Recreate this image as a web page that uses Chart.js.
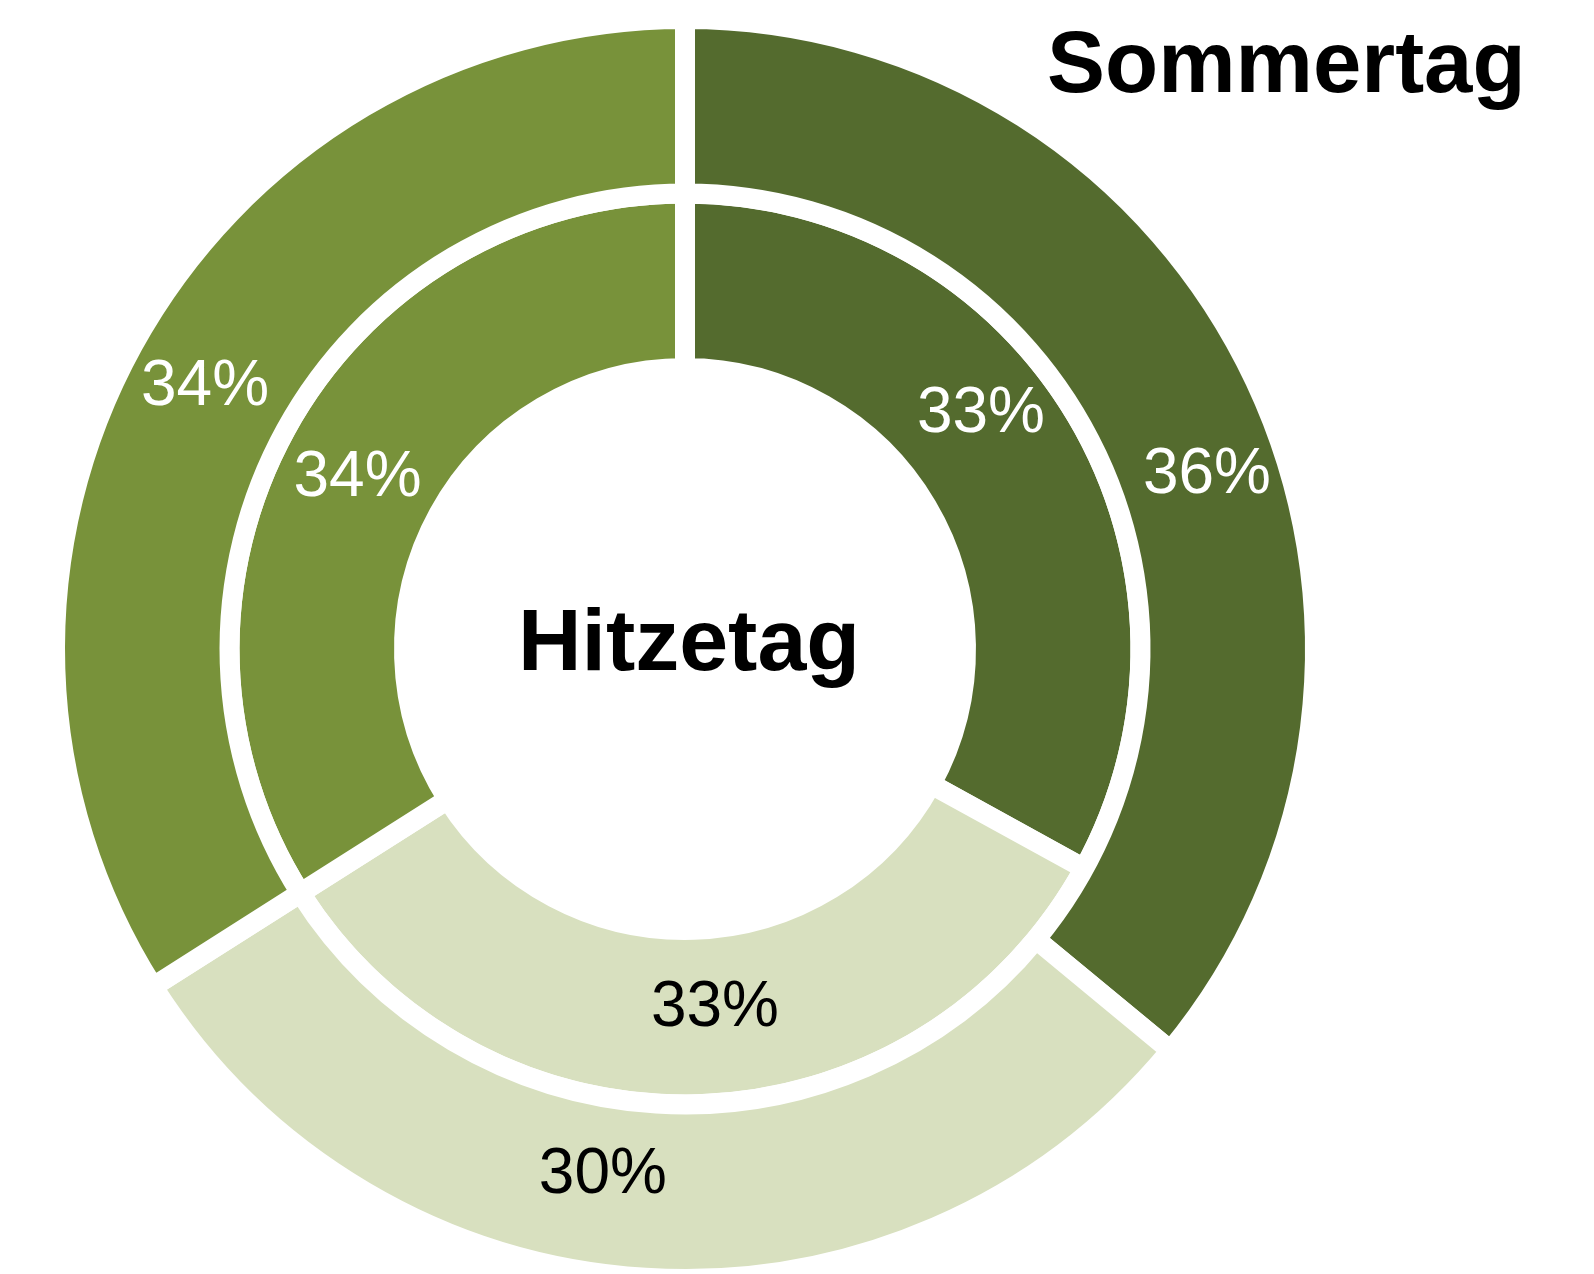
<!DOCTYPE html>
<html>
<head>
<meta charset="utf-8">
<script src="https://cdn.jsdelivr.net/npm/chart.js@4.4.1/dist/chart.umd.min.js"></script>
<style>
  html, body { margin: 0; padding: 0; background: #ffffff; overflow: hidden; }
  #wrap { position: absolute; left: 0; top: 0; width: 1594px; height: 1274px; }
</style>
</head>
<body>
<div id="wrap"><canvas id="c"></canvas></div>
<script>
// ---- data ----
const categories = ['Anteil A', 'Anteil B', 'Anteil C'];
const sommertagValues = [36, 30, 34];   // outer ring
const hitzetagValues  = [33, 33, 34];   // inner ring
const seriesNames = ['Sommertag', 'Hitzetag'];

// ---- styles ----
const segmentColors = ['#546b2e', '#d8e0bf', '#78923a'];
const labelColors = ['#ffffff', '#000000', '#ffffff'];

const labelPlugin = {
  id: 'pctLabels',
  afterDatasetsDraw(chart, args, opts) {
    const ctx = chart.ctx;
    ctx.save();
    ctx.font = '64px "Liberation Sans", Arial, sans-serif';
    ctx.textAlign = 'center';
    ctx.textBaseline = 'middle';
    chart.data.datasets.forEach((ds, di) => {
      const meta = chart.getDatasetMeta(di);
      meta.data.forEach((arc, i) => {
        const p = arc.getProps(['x', 'y', 'startAngle', 'endAngle', 'innerRadius', 'outerRadius'], true);
        const a = (p.startAngle + p.endAngle) / 2 + (opts.angleShift[di][i] * Math.PI / 180);
        const r = (p.innerRadius + p.outerRadius) / 2 + opts.radiusShift[di][i];
        ctx.fillStyle = labelColors[i];
        ctx.fillText(ds.data[i] + '%', p.x + Math.cos(a) * r, p.y + Math.sin(a) * r + 2);
      });
    });
    // series titles
    const c = chart.getDatasetMeta(0).data[0];
    ctx.fillStyle = '#000000';
    ctx.font = 'bold 87px "Liberation Sans", Arial, sans-serif';
    ctx.textAlign = 'left';
    ctx.textBaseline = 'alphabetic';
    ctx.fillText(seriesNames[0], 1047, 92);
    ctx.font = 'bold 88px "Liberation Sans", Arial, sans-serif';
    ctx.textAlign = 'center';
    ctx.fillText(seriesNames[1], c.x + 4, 670);
    ctx.restore();
  }
};

new Chart(document.getElementById('c'), {
  type: 'doughnut',
  data: {
    labels: categories,
    datasets: [
      { label: seriesNames[0], data: sommertagValues, backgroundColor: segmentColors,
        borderColor: '#ffffff', borderWidth: 20, hoverBorderWidth: 20 },
      { label: seriesNames[1], data: hitzetagValues, backgroundColor: segmentColors,
        borderColor: '#ffffff', borderWidth: 20, hoverBorderWidth: 20 }
    ]
  },
  options: {
    responsive: true,
    maintainAspectRatio: false,
    animation: false,
    radius: 630,
    cutout: '44.6%',
    rotation: 0,
    layout: { padding: { left: 0, right: 224, top: 24, bottom: 0 } },
    plugins: {
      legend: { display: false },
      tooltip: { enabled: false },
      pctLabels: {
        angleShift: [[6.6, 5.3, 0], [-8.1, -3, -1]],
        radiusShift: [[8, -12, 5], [11, -10, 2]]
      }
    },
    events: []
  },
  plugins: [labelPlugin]
});
</script>
</body>
</html>
